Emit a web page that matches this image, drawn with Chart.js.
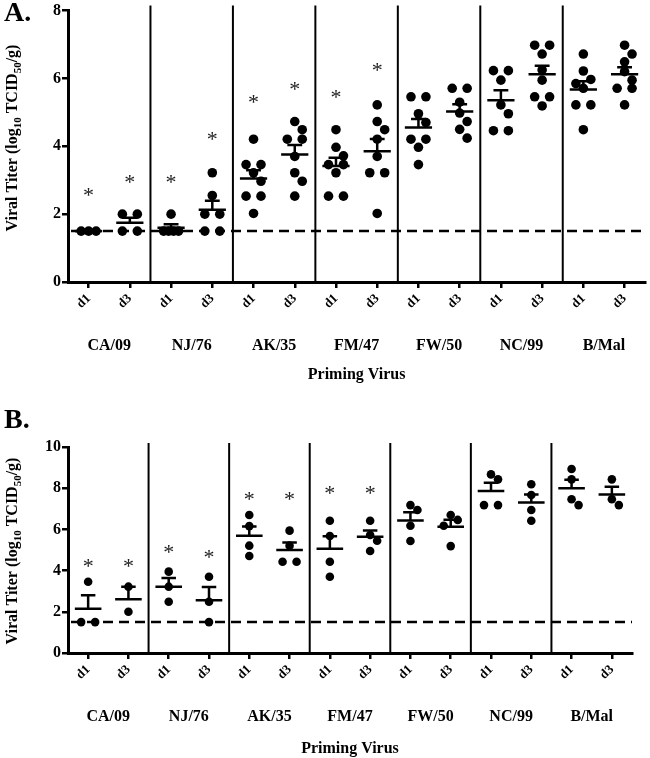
<!DOCTYPE html>
<html>
<head>
<meta charset="utf-8">
<script src="https://cdn.jsdelivr.net/npm/chart.js@4.4.0/dist/chart.umd.min.js"></script>
<style>
  html, body { margin: 0; padding: 0; background: #fff; }
  .panel { position: relative; width: 650px; }
</style>
</head>
<body>
<div class="panel" style="height:384px"><canvas id="chartA"></canvas></div>
<div class="panel" style="height:374px"><canvas id="chartB"></canvas></div>
<script>
// categories
const groups = ['CA/09', 'NJ/76', 'AK/35', 'FM/47', 'FW/50', 'NC/99', 'B/Mal'];
const days = ['d1', 'd3'];
const tickLabels = groups.flatMap(() => days);

// panel A: one list of titers per group/day, in tick order
const titersA = [
  [1.5, 1.5, 1.5],
  [2.0, 2.0, 1.5, 1.5],
  [2.0, 1.5, 1.5, 1.5, 1.5],
  [3.22, 2.55, 2.0, 2.0, 1.5, 1.5],
  [4.21, 3.46, 3.46, 3.22, 2.97, 2.53, 2.53, 2.02],
  [4.73, 4.49, 4.21, 4.21, 3.70, 3.22, 2.97, 2.53],
  [4.49, 3.97, 3.72, 3.46, 3.46, 3.22, 2.53, 2.53],
  [5.22, 4.73, 4.49, 4.21, 3.70, 3.22, 3.22, 2.02],
  [5.46, 5.46, 4.96, 4.70, 4.21, 4.21, 3.97, 3.46],
  [5.71, 5.71, 5.30, 4.98, 4.73, 4.50, 4.24],
  [6.23, 6.23, 5.95, 5.22, 4.96, 4.46, 4.46],
  [6.98, 6.98, 6.72, 6.25, 5.95, 5.46, 5.46, 5.19],
  [6.72, 6.22, 5.97, 5.85, 5.71, 5.22, 5.22, 4.49],
  [6.98, 6.72, 6.49, 6.20, 5.95, 5.71, 5.71, 5.22]
];
const starsA = [2.68, 3.08, 3.08, 4.34, 5.42, 5.81, 5.56, 6.36, null, null, null, null, null, null];

// panel B
const titersB = [
  [3.46, 1.5, 1.5],
  [3.22, 2.0],
  [3.95, 3.22, 2.49],
  [3.70, 2.49, 1.5],
  [6.70, 6.16, 5.21, 4.71],
  [5.94, 5.21, 4.43, 4.43],
  [6.42, 5.68, 4.43, 3.70],
  [6.42, 5.73, 5.45, 4.95],
  [7.18, 6.94, 6.18, 5.44],
  [6.70, 6.46, 6.18, 5.19],
  [8.67, 8.43, 7.18, 7.18],
  [8.19, 7.67, 6.94, 6.42],
  [8.93, 8.43, 7.46, 7.18],
  [8.43, 7.46, 7.18]
];
const starsB = [4.43, 4.43, 5.08, 4.87, 7.67, 7.67, 7.94, 7.94, null, null, null, null, null, null];

const detectionLimit = 1.5;

const FONT = "'Liberation Serif', 'Times New Roman', serif";
Chart.defaults.color = '#000';
Chart.defaults.font.family = FONT;

// horizontal spreading of tied dots (scatter dot plot style)
function spread(vals, p) {
  const order = vals.map((v, i) => i).sort((a, b) => vals[b] - vals[a]);
  const offs = new Array(vals.length).fill(0);
  const placed = [];
  let k = 0;
  while (k < order.length) {
    const row = [order[k]];
    let j = k + 1;
    while (j < order.length && Math.abs(vals[order[j]] - vals[order[k]]) < 0.04) { row.push(order[j]); j++; }
    if (row.length > 1) {
      row.forEach((idx, r) => { offs[idx] = -p.s + 2 * p.s * r / (row.length - 1); });
    } else {
      const y = vals[row[0]] * p.yPx;
      let best = 0, bestD = -1;
      for (const c of [0, p.s, -p.s]) {
        const dmin = placed.length ? Math.min(...placed.map(q => Math.hypot(q.x - c, q.y - y))) : Infinity;
        if (dmin >= p.d) { best = c; break; }
        if (dmin > bestD) { bestD = dmin; best = c; }
      }
      offs[row[0]] = best;
    }
    row.forEach(idx => placed.push({ x: offs[idx], y: vals[idx] * p.yPx }));
    k = j;
  }
  return offs.map(o => o / p.xPx);
}

function meanSem(vals) {
  const n = vals.length;
  const m = vals.reduce((a, b) => a + b, 0) / n;
  if (n < 2) return [m, 0];
  const sd = Math.sqrt(vals.reduce((a, b) => a + (b - m) * (b - m), 0) / (n - 1));
  return [m, sd / Math.sqrt(n)];
}

const decor = {
  id: 'decor',
  beforeDatasetsDraw(chart, args, o) {
    const { ctx, chartArea: a, scales: { x, y } } = chart;
    ctx.save();
    ctx.strokeStyle = '#000';
    ctx.lineWidth = 2;
    for (let i = 1; i < groups.length; i++) {
      const px = x.getPixelForValue(2 * i - 0.5);
      ctx.beginPath(); ctx.moveTo(px, a.bottom); ctx.lineTo(px, a.top - o.sepTop); ctx.stroke();
    }
    ctx.lineWidth = 2.5;
    ctx.setLineDash([10, 6]);
    const py = y.getPixelForValue(detectionLimit);
    ctx.beginPath(); ctx.moveTo(a.left + 3, py); ctx.lineTo(a.right, py); ctx.stroke();
    ctx.restore();
  },
  afterDatasetsDraw(chart, args, o) {
    const { ctx, scales: { x, y } } = chart;
    ctx.save();
    ctx.strokeStyle = '#000';
    ctx.lineWidth = 2.5;
    o.titers.forEach((vals, i) => {
      const [m, sem] = meanSem(vals);
      const pm = y.getPixelForValue(m);
      ctx.beginPath();
      ctx.moveTo(x.getPixelForValue(i - 0.33), pm); ctx.lineTo(x.getPixelForValue(i + 0.33), pm);
      if (sem > 0) {
        const pt = y.getPixelForValue(m + sem);
        const cx = x.getPixelForValue(i);
        ctx.moveTo(cx, pm); ctx.lineTo(cx, pt);
        ctx.moveTo(x.getPixelForValue(i - 0.18), pt); ctx.lineTo(x.getPixelForValue(i + 0.18), pt);
      }
      ctx.stroke();
    });
    ctx.fillStyle = '#222';
    ctx.font = '22px ' + FONT;
    ctx.textAlign = 'center';
    ctx.textBaseline = 'alphabetic';
    o.stars.forEach((s, i) => {
      if (s == null) return;
      ctx.fillText('*', x.getPixelForValue(i), y.getPixelForValue(s) + 11);
    });
    ctx.restore();
  },
  afterDraw(chart, args, o) {
    const ctx = chart.ctx;
    ctx.save();
    ctx.fillStyle = '#000';
    ctx.textBaseline = 'alphabetic';
    ctx.font = 'bold 28px ' + FONT;
    ctx.fillText(o.letter, 4, o.letterY);
    // y axis title with subscripts
    const parts = [['Viral Titer (log', 0], ['10', 1], [' TCID', 0], ['50', 1], ['/g)', 0]];
    ctx.translate(17, o.titleY);
    ctx.rotate(-Math.PI / 2);
    const fonts = ['bold 16px ' + FONT, 'bold 11px ' + FONT];
    let total = 0;
    parts.forEach(([t, s]) => { ctx.font = fonts[s]; total += ctx.measureText(t).width; });
    let cx = -total / 2;
    parts.forEach(([t, s]) => {
      ctx.font = fonts[s];
      ctx.fillText(t, cx, s ? 4 : 0);
      cx += ctx.measureText(t).width;
    });
    ctx.restore();
  }
};

function makeChart(id, titers, stars, p) {
  const points = [];
  titers.forEach((vals, i) => {
    const offs = spread(vals, p);
    vals.forEach((v, j) => points.push({ x: i + offs[j], y: v }));
  });
  return new Chart(document.getElementById(id), {
    type: 'scatter',
    data: {
      datasets: [{
        data: points,
        backgroundColor: '#000',
        borderWidth: 0,
        pointRadius: p.r,
        pointHoverRadius: p.r
      }]
    },
    options: {
      responsive: true,
      maintainAspectRatio: false,
      animation: false,
      layout: { padding: { top: p.top, right: p.right, left: 0, bottom: 0 } },
      plugins: {
        legend: { display: false },
        tooltip: { enabled: false },
        decor: { titers: titers, stars: stars, letter: p.letter, letterY: p.letterY, titleY: p.titleY, sepTop: p.sepTop }
      },
      scales: {
        x: {
          type: 'linear',
          position: 'bottom',
          min: -0.5,
          max: tickLabels.length - 0.5,
          weight: 0,
          afterBuildTicks: (s) => { s.ticks = tickLabels.map((l, i) => ({ value: i })); },
          afterFit: (s) => { s.height = 40; },
          ticks: {
            autoSkip: false,
            minRotation: 45,
            maxRotation: 45,
            padding: 3,
            font: { size: 13, weight: 'bold' },
            callback: (v) => tickLabels[v]
          },
          grid: { drawOnChartArea: false, drawTicks: true, tickLength: 6, lineWidth: 2.5, color: '#000' },
          border: { display: true, width: 3, color: '#000' }
        },
        groups: {
          type: 'category',
          position: 'bottom',
          labels: groups,
          offset: true,
          weight: 1,
          afterFit: (s) => { s.height = p.groupH; },
          ticks: { padding: 6, font: { size: 16, weight: 'bold' } },
          grid: { display: false },
          border: { display: false },
          title: {
            display: true,
            text: 'Priming Virus',
            font: { size: 16, weight: 'bold', lineHeight: 1.2 },
            padding: { top: 0, bottom: 0 }
          }
        },
        y: {
          min: 0,
          max: p.yMax,
          afterFit: (s) => { s.width = 68; },
          ticks: { stepSize: 2, padding: 1, font: { size: 16, weight: 'bold' } },
          grid: { drawOnChartArea: false, drawTicks: true, tickLength: 6, lineWidth: 2.5, color: '#000' },
          border: { display: true, width: 3, color: '#000' }
        }
      }
    },
    plugins: [decor]
  });
}

makeChart('chartA', titersA, starsA, {
  yMax: 8, top: 10, right: 3, groupH: 62, r: 4.8,
  xPx: 41.4, yPx: 34.1, s: 7.5, d: 9,
  letter: 'A.', letterY: 21, titleY: 138, sepTop: 5
});
makeChart('chartB', titersB, starsB, {
  yMax: 10, top: 63, right: 18, groupH: 65, r: 4.3,
  xPx: 40.3, yPx: 20.6, s: 7, d: 10,
  letter: 'B.', letterY: 44, titleY: 167, sepTop: 4
});
</script>
</body>
</html>
